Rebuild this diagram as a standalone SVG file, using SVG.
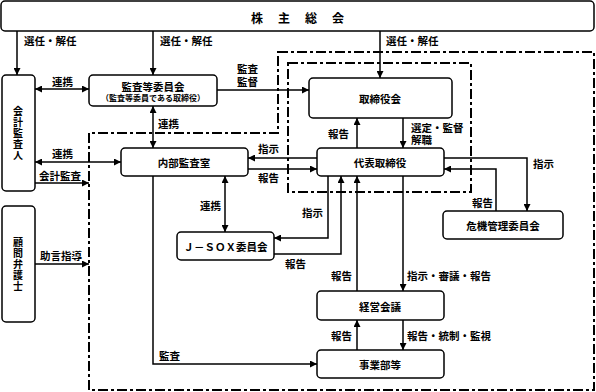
<svg xmlns="http://www.w3.org/2000/svg" width="596" height="392" viewBox="0 0 596 392">
<defs>
<marker id="ah" viewBox="0 0 8 8" refX="8" refY="4" markerWidth="7" markerHeight="7" markerUnits="userSpaceOnUse" orient="auto-start-reverse">
<path d="M0,0 L8,4 L0,8 z" fill="#000"/>
</marker>
<style>
text{font-family:"Noto Sans CJK JP","Noto Sans CJK SC",sans-serif;font-size:10.5px;font-weight:bold;fill:#000}
.box{fill:#fff;stroke:#000;stroke-width:1.5}
.dd{fill:none;stroke:#000;stroke-width:2;stroke-dasharray:10 3 3 3}
.c{fill:none;stroke:#000;stroke-width:1.5}
.a{marker-end:url(#ah)}
.b{marker-start:url(#ah);marker-end:url(#ah)}
.m{text-anchor:middle;dominant-baseline:central}
.l{dominant-baseline:central}
.v{writing-mode:vertical-rl;text-anchor:middle;font-size:10px;letter-spacing:1px}
</style>
</defs>
<rect width="596" height="392" fill="#fff"/>
<g id="frames">
<path class="dd" d="M278,52 H594 V390 H89 V133 H278 Z"/>
<rect class="dd" x="288" y="63" width="183" height="129"/>
</g>
<g id="connectors">
<path class="c a" d="M17,31 V75"/>
<path class="c a" d="M153,31 V75"/>
<path class="c a" d="M380,31 V78"/>
<path class="c b" d="M35,89 H89"/>
<path class="c a" d="M217,90 H309"/>
<path class="c b" d="M153,106 V148"/>
<path class="c b" d="M35,162 H121"/>
<path class="c a" d="M35,183 H89"/>
<path class="c a" d="M35,264 H89"/>
<path class="c a" d="M403,118 V148"/>
<path class="c a" d="M357,148 V118"/>
<path class="c a" d="M317,158 H248"/>
<path class="c a" d="M248,169 H317"/>
<path class="c b" d="M225,176 V232"/>
<path class="c a" d="M328,176 V238 H274"/>
<path class="c a" d="M274,254 H341 V176"/>
<path class="c a" d="M357,291 V176"/>
<path class="c a" d="M403,176 V291"/>
<path class="c a" d="M357,350 V320"/>
<path class="c a" d="M403,320 V350"/>
<path class="c a" d="M153,176 V364 H317"/>
<path class="c a" d="M444,158 H527 V211"/>
<path class="c a" d="M496,211 V169 H444"/>
</g>
<g id="labels">
<text x="24" y="40" class="l">選任・解任</text>
<text x="160" y="40" class="l">選任・解任</text>
<text x="386" y="40" class="l">選任・解任</text>
<text x="52" y="81" class="l">連携</text>
<text x="237" y="68" class="l">監査<tspan x="237" dy="13">監督</tspan></text>
<text x="158" y="123" class="l">連携</text>
<text x="52" y="153" class="l">連携</text>
<text x="39" y="175" class="l">会計監査</text>
<text x="40" y="255" class="l">助言指導</text>
<text x="258" y="148" class="l">指示</text>
<text x="258" y="177" class="l">報告</text>
<text x="328" y="133" class="l">報告</text>
<text x="411" y="127" class="l">選定・監督<tspan x="411" dy="12">解職</tspan></text>
<text x="533" y="163" class="l">指示</text>
<text x="472" y="202" class="l">報告</text>
<text x="200" y="205" class="l">連携</text>
<text x="302" y="212" class="l">指示</text>
<text x="285" y="263" class="l">報告</text>
<text x="331" y="275" class="l">報告</text>
<text x="407" y="275" class="l">指示・審議・報告</text>
<text x="331" y="335" class="l">報告</text>
<text x="407" y="335" class="l">報告・統制・監視</text>
<text x="159" y="355" class="l">監査</text>
</g>
<g id="shareholders">
<rect class="box" x="1" y="1" width="593" height="30" rx="4"/>
<text x="305" y="17" class="m" style="font-size:12px;letter-spacing:15px">株主総会</text>
</g>
<g id="accounting-auditor">
<rect class="box" x="2" y="75" width="33" height="116" rx="4"/>
<text class="v" x="18" y="134">会計監査人</text>
</g>
<g id="legal-advisor">
<rect class="box" x="2" y="206" width="33" height="116" rx="4"/>
<text class="v" x="18" y="265">顧問弁護士</text>
</g>
<g id="audit-committee">
<rect class="box" x="89" y="75" width="128" height="31" rx="4"/>
<text x="153" y="86" class="m">監査等委員会<tspan x="153" dy="11" style="font-size:8px">（監査等委員である取締役）</tspan></text>
</g>
<g id="board">
<rect class="box" x="309" y="78" width="143" height="40" rx="4"/>
<text x="380" y="98" class="m">取締役会</text>
</g>
<g id="internal-audit">
<rect class="box" x="121" y="148" width="127" height="28" rx="4"/>
<text x="184" y="162" class="m">内部監査室</text>
</g>
<g id="representative">
<rect class="box" x="317" y="148" width="127" height="28" rx="4"/>
<text x="380" y="162" class="m">代表取締役</text>
</g>
<g id="jsox">
<rect class="box" x="177" y="232" width="97" height="28" rx="4"/>
<text x="225.5" y="246" class="m">Ｊ－ＳＯＸ委員会</text>
</g>
<g id="risk-committee">
<rect class="box" x="443" y="211" width="120" height="28" rx="4"/>
<text x="503" y="225" class="m">危機管理委員会</text>
</g>
<g id="management-meeting">
<rect class="box" x="317" y="291" width="127" height="29" rx="4"/>
<text x="380" y="306" class="m">経営会議</text>
</g>
<g id="divisions">
<rect class="box" x="317" y="350" width="127" height="28" rx="4"/>
<text x="380" y="364" class="m">事業部等</text>
</g>
</svg>
